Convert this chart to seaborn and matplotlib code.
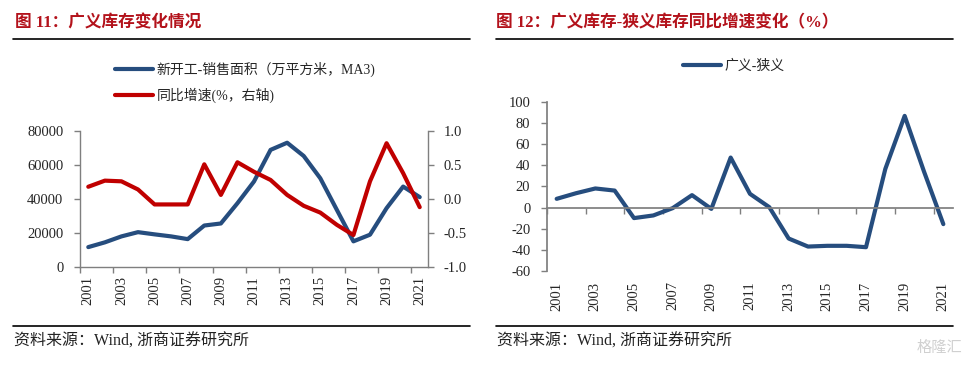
import numpy as np
import seaborn as sns
import matplotlib.pyplot as plt
from matplotlib.lines import Line2D
from matplotlib.ticker import FormatStrFormatter

# Data
years = list(range(2001, 2022))
# 新开工-销售面积（万平方米，MA3）, left axis
area_gap = [11700, 14500, 18000, 20500, 19200, 18000, 16400, 24400, 25600, 37500, 50300,
            68900, 73100, 65300, 52200, 33600, 15100, 19000, 34600, 47300, 41100]
# 同比增速, right axis
area_gap_yoy = [0.18, 0.27, 0.26, 0.14, -0.08, -0.08, -0.08, 0.51, 0.06, 0.54, 0.40,
                0.28, 0.06, -0.10, -0.20, -0.38, -0.53, 0.26, 0.82, 0.38, -0.12]
# 广义-狭义 (%)
broad_minus_narrow = [8.2, 13.5, 18.0, 16.0, -10.0, -7.5, -0.6, 11.7, -1.3, 47.2, 12.9,
                      0.3, -29.3, -36.9, -36.2, -36.2, -37.5, 36.5, 86.6, 34.0, -15.7]
label_ticks = years[::2]

BLUE = '#264D7E'
RED = '#C00000'
TITLE_RED = '#B3121B'
GRAY = '#7F7F7F'

sns.set_theme(style='white')
plt.rcParams['font.family'] = ['Liberation Serif', 'Noto Sans CJK SC']
plt.rcParams['axes.unicode_minus'] = False

W, H = 976, 365
fig = plt.figure(figsize=(W / 100, H / 100), dpi=100)
fig.patch.set_facecolor('white')

# ---------- left chart ----------
ax1 = fig.add_axes([80 / W, 1 - 267 / H, 348 / W, 136 / H])
ax1r = ax1.twinx()
sns.lineplot(x=years, y=area_gap, ax=ax1, color=BLUE, lw=3, legend=False,
             label='新开工-销售面积（万平方米，MA3)')
sns.lineplot(x=years, y=area_gap_yoy, ax=ax1r, color=RED, lw=3, legend=False,
             label='同比增速(%，右轴)')

ax1.set_ylim(0, 80000)
ax1.set_yticks(range(0, 80001, 20000))
ax1r.set_ylim(-1, 1)
ax1r.set_yticks([-1.0, -0.5, 0.0, 0.5, 1.0])
ax1r.yaxis.set_major_formatter(FormatStrFormatter('%.1f'))

ax1.spines['top'].set_visible(False)
ax1.spines['right'].set_visible(False)
for s in ['top', 'left', 'bottom']:
    ax1r.spines[s].set_visible(False)
for sp in [ax1.spines['left'], ax1.spines['bottom'], ax1r.spines['right']]:
    sp.set_color(GRAY)
    sp.set_linewidth(1)

ax1.tick_params(axis='y', length=4, width=1, color=GRAY, pad=8, labelsize=10.5, direction='out', left=True)
ax1r.tick_params(axis='y', length=4, width=1, color=GRAY, pad=7, labelsize=10.5, direction='out', right=True)

# ---------- right chart ----------
ax2 = fig.add_axes([547 / W, 1 - 271 / H, 406 / W, 169.3 / H])
sns.lineplot(x=years, y=broad_minus_narrow, ax=ax2, color=BLUE, lw=3, legend=False,
             label='广义-狭义')
ax2.set_ylim(-60, 100)
ax2.set_yticks(range(-60, 101, 20))
ax2.spines['top'].set_visible(False)
ax2.spines['right'].set_visible(False)
ax2.spines['bottom'].set_position(('data', 0))
ax2.spines['bottom'].set_color(GRAY)
ax2.spines['left'].set_color(GRAY)
ax2.tick_params(axis='y', length=4, width=1, color=GRAY, pad=8, labelsize=10.5, direction='out', left=True)

# x axes: labels on odd years, tick marks at category boundaries
for ax in (ax1, ax2):
    ax.set_xlim(2000.5, 2021.5)
    ax.set_xticks(label_ticks)
    ax.set_xticks(np.arange(2000.5, 2021, 2), minor=True)
    ax.tick_params(axis='x', which='minor', length=4, width=1, color=GRAY, direction='out', bottom=True)
    ax.set_xlabel('')
    ax.set_ylabel('')
ax1r.set_ylabel('')

ax1.tick_params(axis='x', which='major', length=0, pad=6.5, labelsize=10.5, labelrotation=90)
ax2.tick_params(axis='x', which='major', length=0, labelbottom=False)
sec = ax2.secondary_xaxis('bottom')
sec.set_xticks(label_ticks)
sec.tick_params(axis='x', length=0, pad=7.5, labelsize=10.5, labelrotation=90)
sec.spines['bottom'].set_visible(False)

# ---------- legends ----------
fig.legend(handles=[ax1.get_lines()[0], ax1r.get_lines()[0]], loc='upper left',
           bbox_to_anchor=(115 / W, 1 - 62 / H), frameon=False, prop={'size': 10},
           handlelength=2.7, handletextpad=0.3, labelspacing=0.75, borderpad=0, borderaxespad=0)
fig.legend(handles=[ax2.get_lines()[0]], loc='upper left',
           bbox_to_anchor=(683 / W, 1 - 60 / H), frameon=False, prop={'size': 10},
           handlelength=2.7, handletextpad=0.3, borderpad=0, borderaxespad=0)

# ---------- titles, rules, sources ----------
fig.text(15 / W, 1 - 23 / H, '图 11：广义库存变化情况', color=TITLE_RED, fontsize=12,
         fontweight='bold', ha='left', va='center')
fig.text(496 / W, 1 - 23 / H, '图 12：广义库存-狭义库存同比增速变化（%）', color=TITLE_RED,
         fontsize=12, fontweight='bold', ha='left', va='center')
for x0, x1 in [(13, 470), (496, 953)]:
    fig.add_artist(Line2D([x0 / W, x1 / W], [1 - 39 / H] * 2, color='black', lw=1.2))
    fig.add_artist(Line2D([x0 / W, x1 / W], [1 - 326 / H] * 2, color='black', lw=1.2))
    fig.text((x0 + 1) / W, 1 - 342 / H, '资料来源：Wind, 浙商证券研究所', fontsize=11.5,
             ha='left', va='center', color='#222222')
fig.text(962 / W, 1 - 348 / H, '格隆汇', fontsize=11, color='#D0D0D0', ha='right', va='center')

fig.savefig('out.png', dpi=100, facecolor='white')
